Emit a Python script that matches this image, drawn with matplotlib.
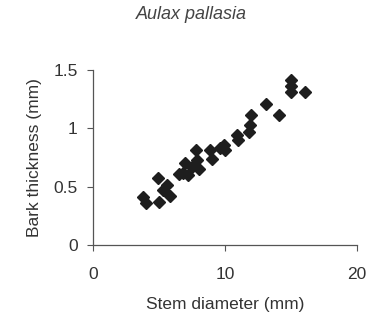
import matplotlib
matplotlib.use('Agg')
import matplotlib.pyplot as plt

plt.rcParams['font.family'] = ['Liberation Sans', 'DejaVu Sans']

# 茎直径 (mm) 与树皮厚度 (mm)
stem_diameter = [3.8, 4.0, 4.9, 5.0, 5.6, 5.8, 5.3, 6.5, 6.8, 7.0, 7.2,
                 7.5, 7.8, 7.9, 8.0, 8.9, 9.0, 9.6, 9.9, 10.0, 10.9, 11.0,
                 11.8, 11.9, 12.0, 13.1, 14.1, 15.0, 15.0, 15.0, 16.1]
bark_thickness = [0.41, 0.36, 0.57, 0.37, 0.51, 0.42, 0.47, 0.61, 0.62,
                  0.70, 0.60, 0.67, 0.81, 0.73, 0.65, 0.81, 0.74, 0.83,
                  0.86, 0.81, 0.94, 0.90, 0.97, 1.03, 1.11, 1.21, 1.11,
                  1.41, 1.36, 1.31, 1.31]

fig = plt.figure(figsize=(3.69, 3.21), dpi=100)
ax = fig.add_axes([0.252, 0.237, 0.715, 0.545])
ax.plot(stem_diameter, bark_thickness, linestyle='none', marker='D',
        markersize=6.3, color='#1e1e1e')

ax.set_xlim(0, 20)
ax.set_ylim(0, 1.5)
ax.set_xticks([0, 10, 20])
ax.set_xticklabels(['0', '10', '20'])
ax.set_yticks([0, 0.5, 1, 1.5])
ax.set_yticklabels(['0', '0.5', '1', '1.5'])
for s in ['top', 'right']:
    ax.spines[s].set_visible(False)
for s in ['left', 'bottom']:
    ax.spines[s].set_color('#555555')
    ax.spines[s].set_linewidth(0.9)
ax.tick_params(direction='out', length=4, color='#555555', labelsize=12.5,
               labelcolor='#333333')
ax.tick_params(axis='x', pad=12)
ax.tick_params(axis='y', pad=7)

ax.set_xlabel('Stem diameter (mm)', fontsize=12.5, color='#333333', labelpad=11)
ax.set_ylabel('Bark thickness (mm)', fontsize=12.5, color='#333333', labelpad=8)
fig.text(0.52, 0.955, 'Aulax pallasia', fontsize=13, style='italic',
         color='#444444', ha='center', va='center')

fig.savefig('out.png', dpi=100)
